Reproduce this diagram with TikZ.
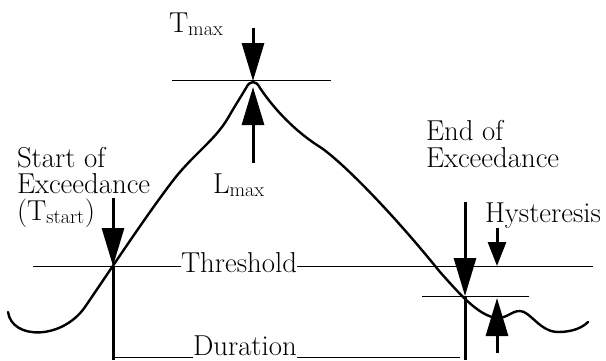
\documentclass[tikz,border=0pt]{standalone}
\usetikzlibrary{arrows.meta}
\begin{document}
\begin{tikzpicture}[x=1pt,y=-1pt,
  lbl/.style={inner sep=0pt,outer sep=0pt,anchor=base west,font=\fontsize{28.8}{26.5}\selectfont,align=left},
  curve/.style={line width=2.4pt,line join=round,line cap=round},
  thin/.style={line width=0.9pt},
  shaft/.style={line width=3pt},
  bigtip/.style={shaft,-{Triangle[length=38pt,width=22pt]}},
  smalltip/.style={shaft,-{Triangle[length=24pt,width=18pt]}}]
\useasboundingbox (0,0) rectangle (606,360);
% key points
\coordinate (peak) at (253,81);
\coordinate (ts) at (113,266);
\coordinate (te) at (465,296);
% curve
\draw[curve] (8,312) .. controls (12,340) and (62,340) .. (85,307)
  .. controls (115,263) and (150,210) .. (175,178)
  .. controls (195,153) and (215,140) .. (228,118)
  .. controls (236,104) and (242,95) .. (246,88)
  .. controls (250,80) and (256,80) .. (260,88)
  .. controls (270,103) and (290,128) .. (320,147)
  .. controls (340,160) and (390,210) .. (440,272)
  .. controls (458,292) and (478,316) .. (497,318)
  .. controls (508,318) and (511,311) .. (520,311)
  .. controls (530,311) and (540,332) .. (558,332)
  .. controls (572,332) and (582,328) .. (588,322);
% texts
\node[lbl] (tmax) at (169,32) {T\textsubscript{max}};
\node[lbl] (lmax) at (213,193) {L\textsubscript{max}};
\node[lbl] (start) at (17,220) {Start of\\Exceedance\\(T\textsubscript{start})};
\node[lbl] (end) at (426,167) {End of\\Exceedance};
\node[lbl] (hyst) at (485,222) {Hysteresis};
\node[lbl] (thr) at (181,272) {Threshold};
\node[lbl] (dur) at (193,355) {Duration};
% horizontal lines
\coordinate (topL) at (172,80); \coordinate (topR) at (331,80);
\draw[thin] (topL) -- (topR);
\coordinate (thrL) at (33,266); \coordinate (thrR) at (593,266);
\draw[thin] (thrL) -- (thrL -| thr.west);
\draw[thin] (thr.east |- thrR) -- (thrR);
\coordinate (hyL) at (422,296); \coordinate (hyR) at (529,296);
\draw[thin] (hyL) -- (hyR);
\coordinate (durL) at (113,357); \coordinate (durR) at (460,357);
\draw[thin] (durL) -- (durL -| dur.west);
\draw[thin] (dur.east |- durR) -- (durR);
% arrows
\coordinate (a1) at (253,28);
\draw[bigtip] (a1) -- (peak);
\coordinate (a2) at (253,163); \coordinate (a2t) at (253,87);
\draw[bigtip] (a2) -- (a2t);
\coordinate (a3) at (113,198);
\draw[bigtip] (a3) -- (ts);
\coordinate (tsB) at (113,360);
\draw[shaft] (ts) -- (tsB);
\coordinate (a4) at (465,202);
\draw[bigtip] (a4) -- (te);
\coordinate (teB) at (465,360);
\draw[shaft] (te) -- (teB);
\coordinate (h1) at (497,228); \coordinate (h1t) at (497,266);
\draw[smalltip] (h1) -- (h1t);
\coordinate (h2) at (497,353); \coordinate (h2t) at (497,298);
\draw[bigtip] (h2) -- (h2t);
\end{tikzpicture}
\end{document}
